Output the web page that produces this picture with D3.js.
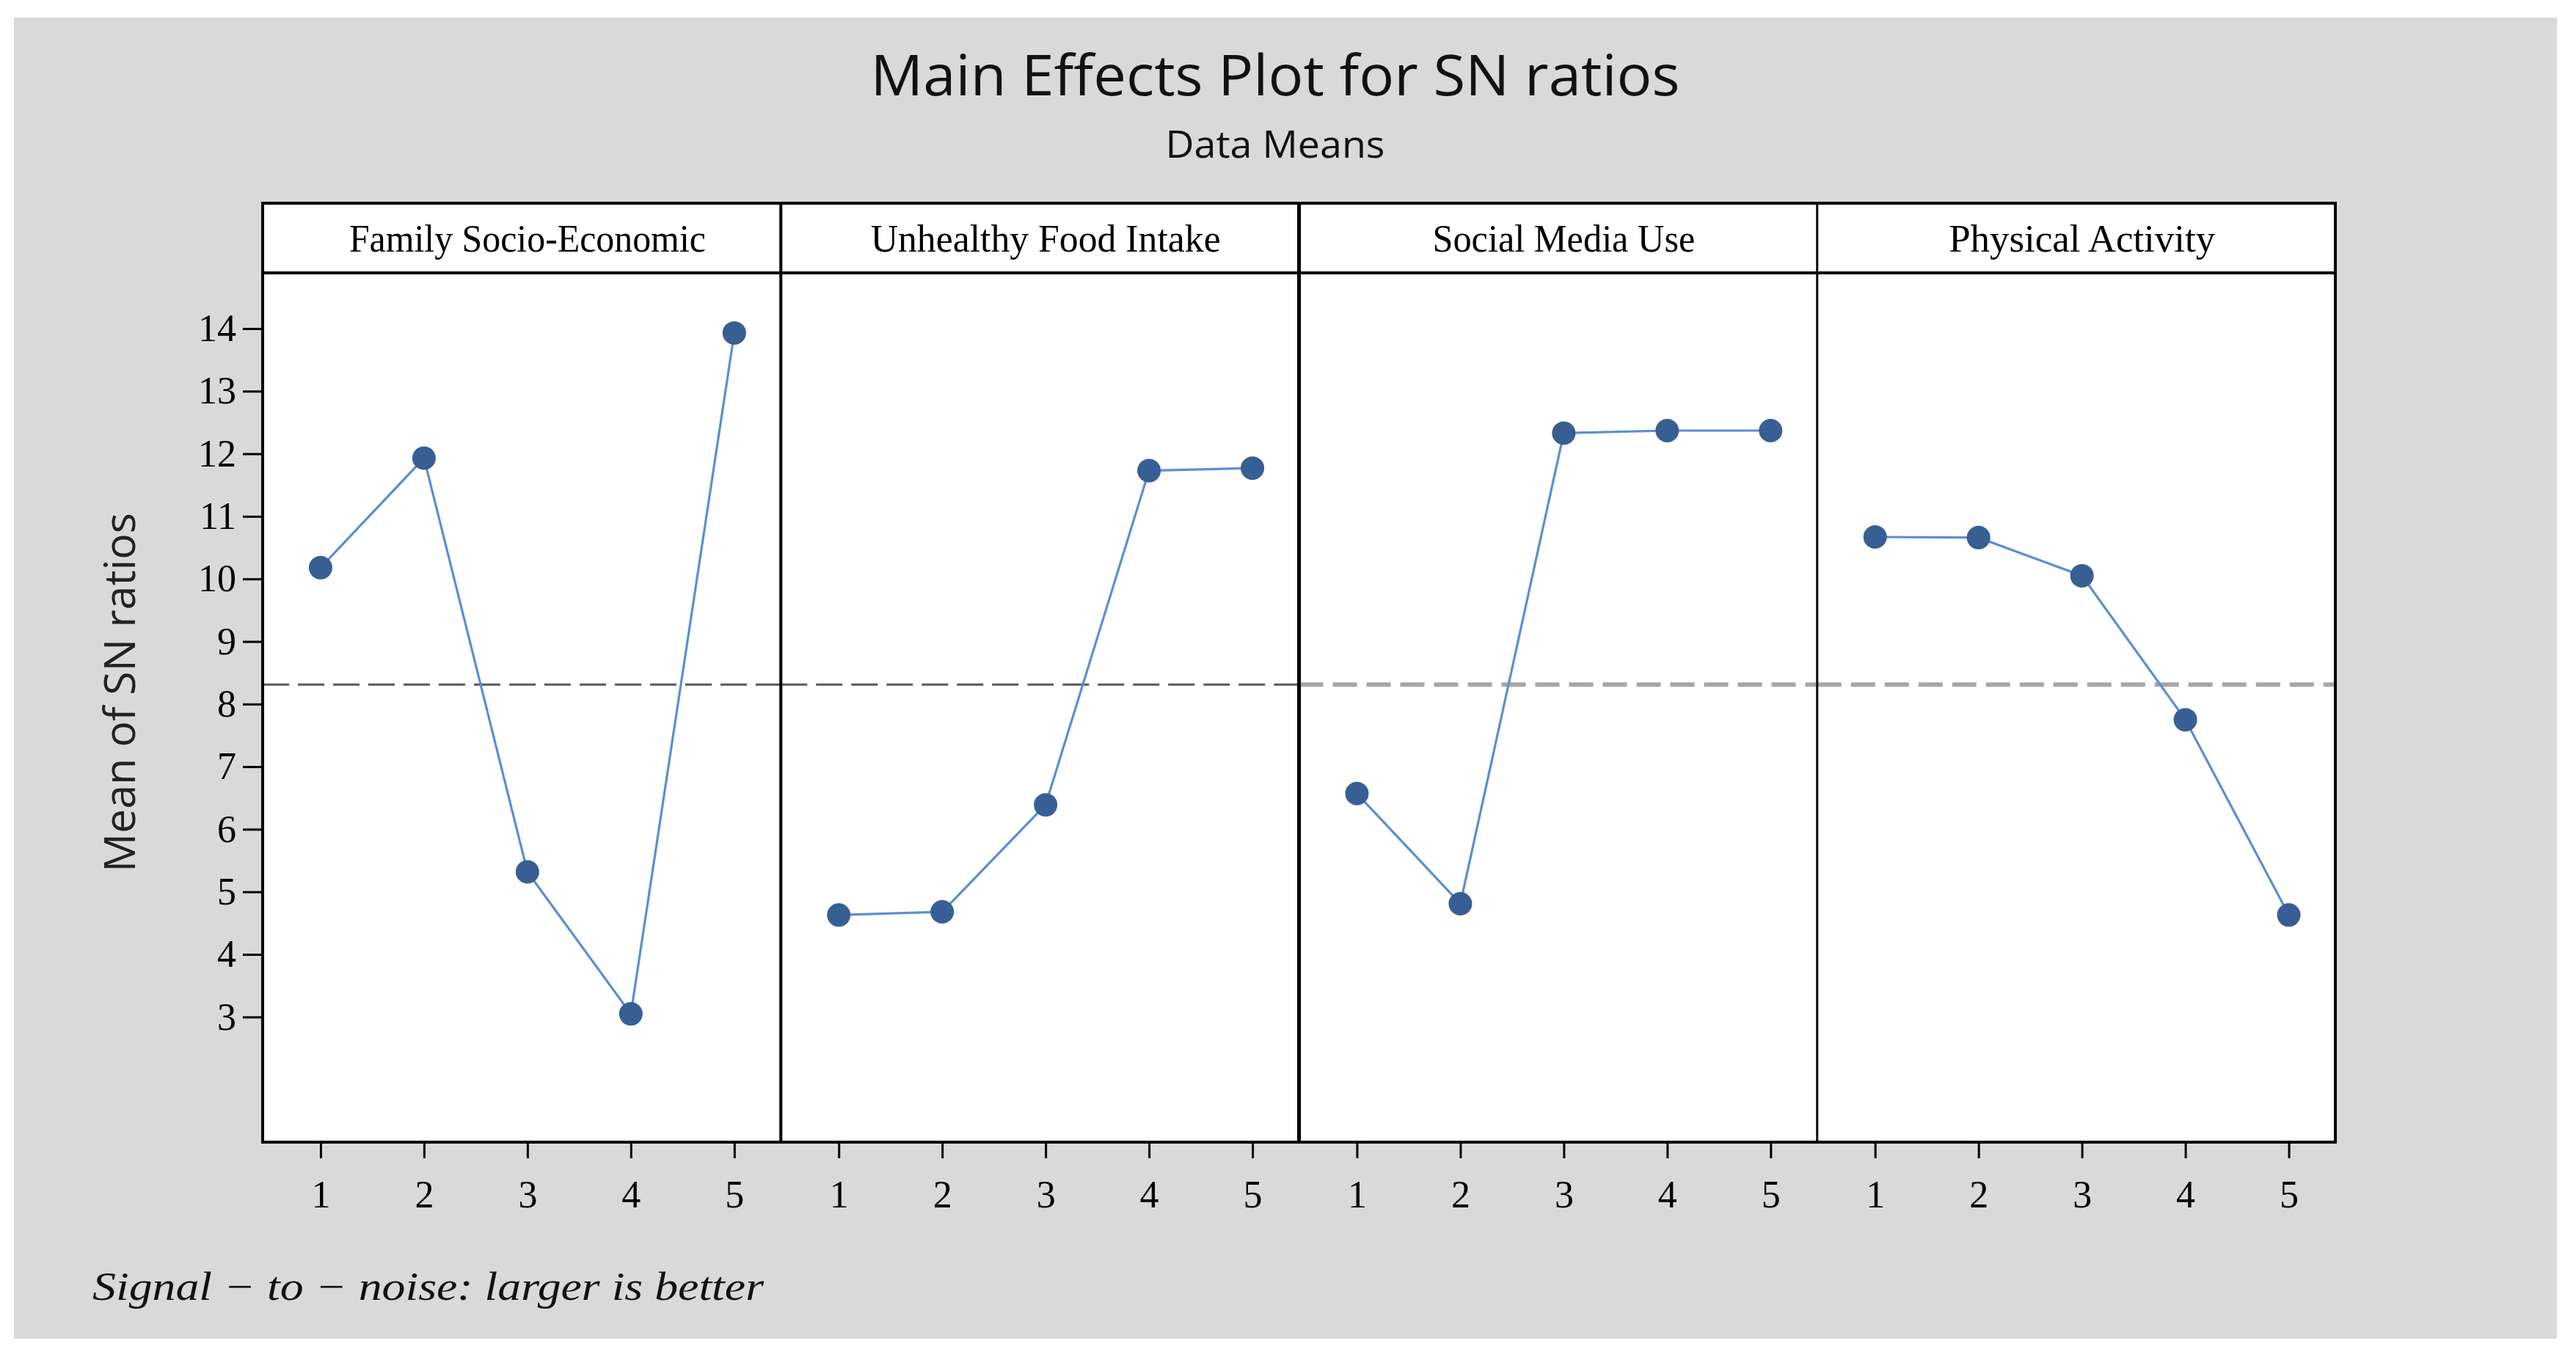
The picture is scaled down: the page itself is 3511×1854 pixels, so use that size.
<!DOCTYPE html>
<html>
<head>
<meta charset="utf-8">
<script src="https://cdn.jsdelivr.net/npm/d3@7"></script>
<style>
  html, body { margin: 0; padding: 0; background: #ffffff; }
  svg { display: block; }
</style>
</head>
<body>
<svg id="chart" width="3511" height="1854"></svg>
<script>
// ---------- data ----------
const factors = ["Family Socio-Economic", "Unhealthy Food Intake", "Social Media Use", "Physical Activity"];
const levels = [1, 2, 3, 4, 5];
const familySocioEconomic = [10.18, 11.93, 5.32, 3.05, 13.93];
const unhealthyFoodIntake = [4.63, 4.68, 6.39, 11.73, 11.77];
const socialMediaUse = [6.57, 4.81, 12.33, 12.37, 12.37];
const physicalActivity = [10.67, 10.66, 10.05, 7.75, 4.63];
const seriesValues = [familySocioEconomic, unhealthyFoodIntake, socialMediaUse, physicalActivity];
const overallMean = 8.31;
const yTicks = [3, 4, 5, 6, 7, 8, 9, 10, 11, 12, 13, 14];
const titleText = "Main Effects Plot for SN ratios";
const subtitleText = "Data Means";
const yTitleText = "Mean of SN ratios";
const footerText = "Signal \u2212 to \u2212 noise: larger is better";
const headerWidths = [486, 477, 358, 363];

// ---------- layout ----------
const svg = d3.select("#chart");
const L = 358, R = 3183, headTop = 277, headBot = 372, plotBot = 1557;

svg.append("rect").attr("x", 19).attr("y", 24).attr("width", 3466).attr("height", 1801).attr("fill", "#d9d9d9");

const y = d3.scaleLinear().domain([1.0, 14.89]).range([plotBot, headBot]);
const panelX = d3.scaleBand().domain(factors).range([L, R]).padding(0);

svg.append("rect").attr("x", L).attr("y", headTop).attr("width", R - L).attr("height", plotBot - headTop).attr("fill", "#ffffff");

// title
svg.append("text").attr("x", 1738).attr("y", 130).attr("text-anchor", "middle")
  .attr("font-family", "Open Sans, sans-serif").attr("font-size", 76)
  .attr("textLength", 1103).attr("lengthAdjust", "spacingAndGlyphs")
  .attr("fill", "#111").text(titleText);
svg.append("text").attr("x", 1738).attr("y", 215).attr("text-anchor", "middle")
  .attr("font-family", "Open Sans, sans-serif").attr("font-size", 52)
  .attr("textLength", 299).attr("lengthAdjust", "spacingAndGlyphs")
  .attr("fill", "#111").text(subtitleText);

// y axis title
svg.append("text").attr("transform", "translate(184,944) rotate(-90)").attr("text-anchor", "middle")
  .attr("font-family", "Open Sans, sans-serif").attr("font-size", 58)
  .attr("textLength", 490).attr("lengthAdjust", "spacingAndGlyphs")
  .attr("fill", "#222").text(yTitleText);

// footer
svg.append("text").attr("x", 126).attr("y", 1772)
  .attr("font-family", "Liberation Serif, serif").attr("font-style", "italic").attr("font-size", 54)
  .attr("textLength", 915).attr("lengthAdjust", "spacingAndGlyphs")
  .attr("fill", "#111").text(footerText);

// y axis
const yAxis = d3.axisLeft(y).tickValues(yTicks).tickSize(27).tickPadding(9).tickFormat(d3.format("d"));
const yG = svg.append("g").attr("transform", `translate(${L},0)`).call(yAxis);
yG.select(".domain").remove();
yG.selectAll(".tick line").attr("stroke", "#000").attr("stroke-width", 3);
yG.selectAll(".tick text").attr("font-family", "Liberation Serif, serif").attr("font-size", 52).attr("fill", "#000");

const dashStyles = [
  { c: "#595959", w: 3, d: "36,12" },
  { c: "#595959", w: 3, d: "36,12" },
  { c: "#a6a6a6", w: 6, d: "33,13" },
  { c: "#a6a6a6", w: 6, d: "33,13" }
];

factors.forEach((f, i) => {
  const x0 = panelX(f), x1 = x0 + panelX.bandwidth();
  const x = d3.scaleLinear().domain([0.44, 5.45]).range([x0, x1]);
  const g = svg.append("g");

  g.append("text").attr("x", x(3)).attr("y", 343).attr("text-anchor", "middle")
    .attr("font-family", "Liberation Serif, serif").attr("font-size", 52)
    .attr("textLength", headerWidths[i]).attr("lengthAdjust", "spacingAndGlyphs")
    .attr("fill", "#000").text(f);

  g.append("line").attr("x1", x0).attr("x2", x1).attr("y1", y(overallMean)).attr("y2", y(overallMean))
    .attr("stroke", dashStyles[i].c).attr("stroke-width", dashStyles[i].w).attr("stroke-dasharray", dashStyles[i].d);

  const xAxis = d3.axisBottom(x).tickValues(levels).tickSize(22).tickPadding(30).tickFormat(d3.format("d"));
  const xG = g.append("g").attr("transform", `translate(0,${plotBot})`).call(xAxis);
  xG.select(".domain").remove();
  xG.selectAll(".tick line").attr("stroke", "#000").attr("stroke-width", 3);
  xG.selectAll(".tick text").attr("font-family", "Liberation Serif, serif").attr("font-size", 52).attr("fill", "#000");

  const vals = seriesValues[i].map((v, k) => ({ lv: levels[k], v }));
  const line = d3.line().x(d => x(d.lv)).y(d => y(d.v));
  g.append("path").datum(vals).attr("d", line).attr("fill", "none")
    .attr("stroke", "#5b8fd0").attr("stroke-width", 3.2);
  g.selectAll("circle").data(vals).join("circle")
    .attr("cx", d => x(d.lv)).attr("cy", d => y(d.v)).attr("r", 16)
    .attr("fill", "#375f93");
});

const frame = svg.append("g").attr("fill", "none").attr("stroke", "#000");
frame.append("rect").attr("x", L).attr("y", headTop).attr("width", R - L).attr("height", plotBot - headTop).attr("stroke-width", 4);
frame.append("line").attr("x1", L).attr("x2", R).attr("y1", headBot).attr("y2", headBot).attr("stroke-width", 4);
const divW = [4, 5, 3];
factors.slice(1).forEach((f, i) => {
  const xd = panelX(f);
  frame.append("line").attr("x1", xd).attr("x2", xd).attr("y1", headTop).attr("y2", plotBot).attr("stroke-width", divW[i]);
});
</script>
</body>
</html>
